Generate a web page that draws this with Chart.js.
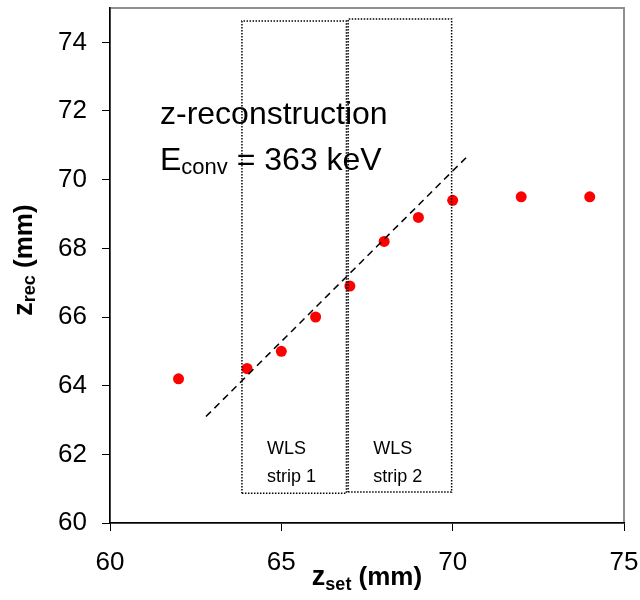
<!DOCTYPE html>
<html>
<head>
<meta charset="utf-8">
<script src="https://cdn.jsdelivr.net/npm/chart.js@4"></script>
<style>
  html, body { margin: 0; padding: 0; background: #fff; }
</style>
</head>
<body>
<canvas id="chart" width="640" height="600"></canvas>
<script>
// measured points
const zSet = [62, 64, 65, 66, 67, 68, 69, 70, 72, 74];
const zRec = [64.2, 64.5, 65.0, 66.0, 66.9, 68.2, 68.9, 69.4, 69.5, 69.5];

// dashed guide line (ends)
const fitX = [62.8, 70.4];
const fitY = [63.1, 70.65];

// WLS strip boxes (corners, closed)
const strip1X = [63.85, 66.9, 66.9, 63.85, 63.85];
const strip1Y = [60.87, 60.87, 74.62, 74.62, 60.87];
const strip2X = [66.95, 69.97, 69.97, 66.95, 66.95];
const strip2Y = [60.9, 60.9, 74.68, 74.68, 60.9];

const xTicks = [60, 65, 70, 75];
const yTicks = [60, 62, 64, 66, 68, 70, 72, 74];

const FONT = "'Liberation Sans', Arial, sans-serif";

function pairs(xs, ys) {
    return xs.map((x, i) => ({ x: x, y: ys[i] }));
}

// draw a run of text pieces, some of them subscripts
function drawRun(ctx, x, y, parts) {
    let cx = x;
    parts.forEach(p => {
        ctx.font = p.font;
        ctx.fillText(p.text, cx, y + (p.dy || 0));
        cx += ctx.measureText(p.text).width;
    });
    return cx - x;
}

function runWidth(ctx, parts) {
    let w = 0;
    parts.forEach(p => { ctx.font = p.font; w += ctx.measureText(p.text).width; });
    return w;
}

// grey plot frame, behind the black axes
const frame = {
    id: 'frame',
    beforeDraw(chart) {
        const { ctx, chartArea: a } = chart;
        ctx.save();
        ctx.strokeStyle = '#8f8f8f';
        ctx.lineWidth = 2;
        ctx.strokeRect(a.left, a.top, a.right - a.left, a.bottom - a.top);
        ctx.restore();
    }
};

// texts: labels, axis titles
const labels = {
    id: 'labels',
    afterDraw(chart) {
        const { ctx, scales } = chart;
        const xs = scales.x;
        ctx.save();
        ctx.fillStyle = '#000';
        ctx.textBaseline = 'alphabetic';
        ctx.textAlign = 'left';

        // big annotation
        ctx.font = `32px ${FONT}`;
        ctx.fillText('z-reconstruction', 160, 124);
        drawRun(ctx, 160, 170, [
            { text: 'E', font: `32px ${FONT}` },
            { text: 'conv', font: `22px ${FONT}`, dy: 4 },
            { text: ' = 363 keV', font: `32px ${FONT}` }
        ]);

        // strip labels
        ctx.font = `18px ${FONT}`;
        const s1 = xs.getPixelForValue(strip1X[0]) + 25;
        const s2 = xs.getPixelForValue(strip2X[0]) + 25;
        ctx.fillText('WLS', s1, 454);
        ctx.fillText('strip 1', s1, 482);
        ctx.fillText('WLS', s2, 454);
        ctx.fillText('strip 2', s2, 482);

        // x title
        const xParts = [
            { text: 'z', font: `bold 27px ${FONT}` },
            { text: 'set', font: `bold 18px ${FONT}`, dy: 5 },
            { text: ' (mm)', font: `bold 26px ${FONT}` }
        ];
        const xw = runWidth(ctx, xParts);
        drawRun(ctx, 367 - xw / 2, 585, xParts);

        // y title (rotated)
        const yParts = [
            { text: 'z', font: `bold 27px ${FONT}` },
            { text: 'rec', font: `bold 18px ${FONT}`, dy: 3 },
            { text: ' (mm)', font: `bold 26px ${FONT}` }
        ];
        const yw = runWidth(ctx, yParts);
        ctx.translate(32, 260);
        ctx.rotate(-Math.PI / 2);
        drawRun(ctx, -yw / 2, 0, yParts);
        ctx.restore();
    }
};

const boxStyle = {
    showLine: true,
    borderColor: '#000',
    borderWidth: 1.5,
    borderDash: [1.5, 1.5],
    pointRadius: 0,
    fill: false,
    tension: 0
};

new Chart(document.getElementById('chart'), {
    type: 'scatter',
    data: {
        datasets: [
            Object.assign({ label: 'strip 1', data: pairs(strip1X, strip1Y) }, boxStyle),
            Object.assign({ label: 'strip 2', data: pairs(strip2X, strip2Y) }, boxStyle),
            {
                label: 'fit',
                data: pairs(fitX, fitY),
                showLine: true,
                borderColor: '#000',
                borderWidth: 1.5,
                borderDash: [7, 5],
                pointRadius: 0,
                fill: false
            },
            {
                label: 'z_rec',
                data: pairs(zSet, zRec),
                pointRadius: 5.5,
                pointBackgroundColor: '#ff0000',
                pointBorderWidth: 0,
                borderColor: '#ff0000'
            }
        ]
    },
    options: {
        responsive: false,
        animation: false,
        layout: { padding: { left: 0, right: 16, top: 8, bottom: 0 } },
        plugins: { legend: { display: false }, tooltip: { enabled: false } },
        scales: {
            x: {
                type: 'linear',
                min: 60,
                max: 75,
                afterFit(scale) {
                    scale.height = 77;
                    scale.paddingLeft = 0;
                    scale.paddingRight = 0;
                },
                afterBuildTicks(scale) { scale.ticks = xTicks.map(v => ({ value: v })); },
                grid: { drawOnChartArea: false, drawTicks: true, tickLength: 8, color: '#000' },
                border: { display: true, color: '#000', width: 1.5 },
                ticks: { color: '#000', padding: 16, font: { family: FONT, size: 26 }, maxRotation: 0 }
            },
            y: {
                type: 'linear',
                min: 60,
                max: 75,
                afterFit(scale) {
                    scale.width = 110;
                    scale.paddingTop = 0;
                    scale.paddingBottom = 0;
                },
                afterBuildTicks(scale) { scale.ticks = yTicks.map(v => ({ value: v })); },
                grid: { drawOnChartArea: false, drawTicks: true, tickLength: 8, color: '#000' },
                border: { display: true, color: '#000', width: 1.5 },
                ticks: { color: '#000', padding: 15, font: { family: FONT, size: 26 } }
            }
        }
    },
    plugins: [frame, labels]
});
</script>
</body>
</html>
